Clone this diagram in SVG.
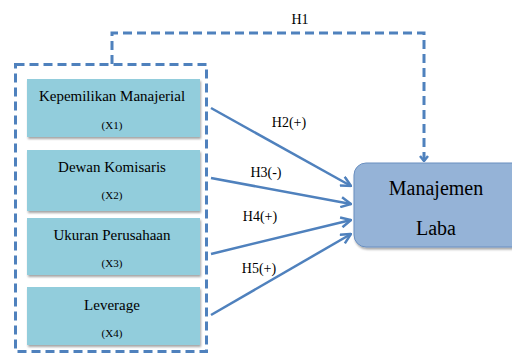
<svg xmlns="http://www.w3.org/2000/svg" width="512" height="354" viewBox="0 0 512 354">
<style>
.dash{fill:none;stroke:#4F81BD;stroke-width:3;stroke-dasharray:9,5}
.var{fill:#92CDDC;stroke:none;filter:url(#sh)}
text{font-family:'Liberation Serif','Times New Roman','DejaVu Serif',serif;fill:#000;text-anchor:middle}
.big{font-size:15px}
.sm{font-size:11px}
.lab{font-size:14px}
.yt{font-size:20px}
.arr{fill:none;stroke:#4F81BD;stroke-width:2.5;marker-end:url(#ah)}
</style>
<defs>
<filter id="sh" x="-10%" y="-10%" width="120%" height="130%">
<feDropShadow dx="1" dy="2" stdDeviation="1" flood-color="#000" flood-opacity="0.35"/>
</filter>
<marker id="ah" viewBox="0 0 12 12" refX="11" refY="6" markerWidth="12" markerHeight="12" markerUnits="userSpaceOnUse" orient="auto">
<path d="M1,1 L11,6 L1,11" fill="none" stroke="#4F81BD" stroke-width="2.5"/>
</marker>
<marker id="ahd" viewBox="0 0 10 10" refX="5" refY="9" markerWidth="10" markerHeight="10" markerUnits="userSpaceOnUse" orient="0">
<path d="M1,4 L5,9 L9,4" fill="none" stroke="#4F81BD" stroke-width="2.5"/>
</marker>
</defs>
<rect width="512" height="354" fill="#fff"/>
<g id="group-box">
<rect class="dash" x="15.5" y="64.5" width="191" height="287"/>
</g>
<g id="x1">
<rect class="var" x="27" y="79" width="173" height="58"/>
<text class="big" x="112" y="101">Kepemilikan Manajerial</text>
<text class="sm" x="112" y="129">(X1)</text>
</g>
<g id="x2">
<rect class="var" x="27" y="150" width="173" height="61"/>
<text class="big" x="112" y="172">Dewan Komisaris</text>
<text class="sm" x="112" y="199">(X2)</text>
</g>
<g id="x3">
<rect class="var" x="27" y="218" width="173" height="57"/>
<text class="big" x="112" y="240">Ukuran Perusahaan</text>
<text class="sm" x="112" y="267">(X3)</text>
</g>
<g id="x4">
<rect class="var" x="27" y="287" width="173" height="58"/>
<text class="big" x="112" y="310">Leverage</text>
<text class="sm" x="112" y="337">(X4)</text>
</g>
<g id="y">
<rect x="354" y="163" width="170" height="84" rx="12" fill="#95B3D7" stroke="#6A8FC0" stroke-width="1" filter="url(#sh)"/>
<text class="yt" x="436" y="195">Manajemen</text>
<text class="yt" x="436" y="235">Laba</text>
</g>
<g id="connectors">
<path class="dash" d="M112,64 V33 H424 V161" marker-end="url(#ahd)"/>
<line class="arr" x1="211" y1="108" x2="351" y2="186"/>
<line class="arr" x1="211" y1="178" x2="351" y2="204"/>
<line class="arr" x1="211" y1="254" x2="351" y2="220"/>
<line class="arr" x1="211" y1="315" x2="351" y2="234"/>
<text class="lab" x="300" y="24">H1</text>
<text class="lab" x="289" y="127">H2(+)</text>
<text class="lab" x="266" y="177">H3(-)</text>
<text class="lab" x="260" y="221">H4(+)</text>
<text class="lab" x="259" y="273">H5(+)</text>
</g>
</svg>
